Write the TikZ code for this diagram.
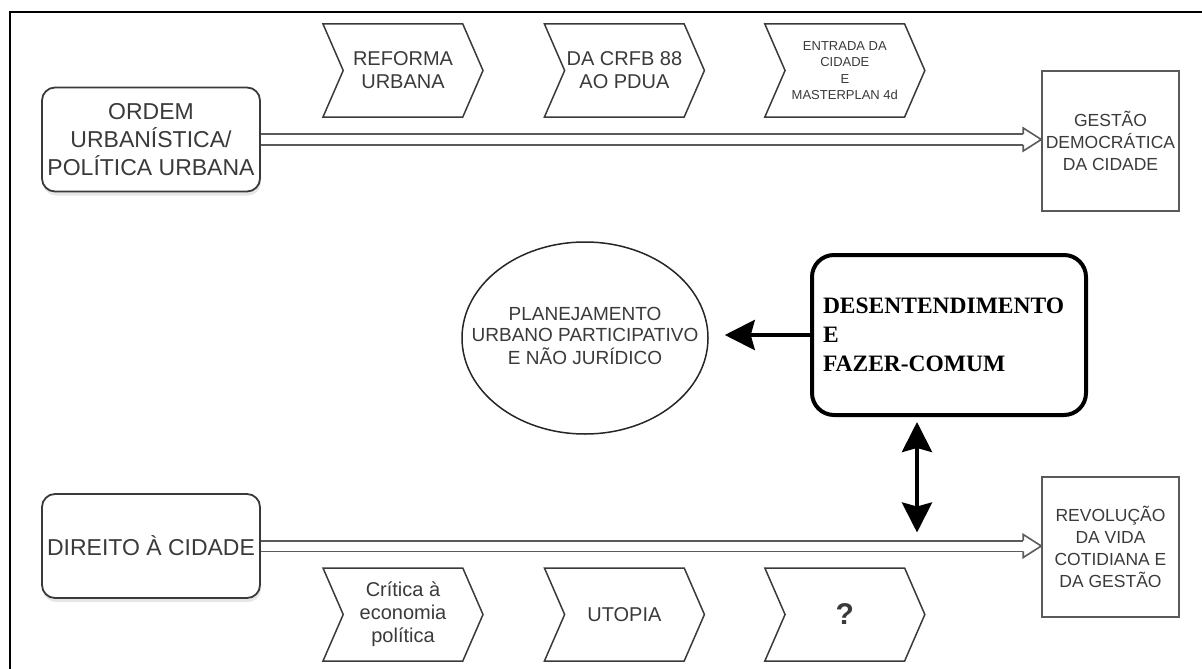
\documentclass[tikz,border=0pt]{standalone}
\usepackage{fontspec}
\setmainfont{Liberation Sans}
\newfontfamily\serifbold{Liberation Serif}
\usetikzlibrary{positioning}
\usetikzlibrary{shapes.geometric}
\usetikzlibrary{shapes.symbols}
\usetikzlibrary{arrows.meta}
\usetikzlibrary{shadows}
\definecolor{inkgray}{HTML}{3A3A3A}
\definecolor{linegray}{HTML}{5A5A5A}
\tikzset{
    % Heavy tips for the black links in the middle
    >={Stealth[length=30pt,width=30pt,inset=4pt]},
%
    % Rounded box at the start of each flow
    start box/.style={
        draw=inkgray, line width=1.8pt, rounded corners=13pt, align=center,
        minimum width=218pt, minimum height=104pt, inner sep=0pt,
        fill=white, text=inkgray, font=\fontsize{23}{28}\selectfont,
        drop shadow={opacity=.2, shadow xshift=1pt, shadow yshift=-4pt}},
%
    % Plain box at the end of each flow
    end box/.style={
        draw=linegray, line width=1.5pt, align=center,
        minimum width=137pt, minimum height=140pt, inner sep=0pt,
        text=inkgray, font=\fontsize{17.5}{22}\selectfont},
%
    % Chevron standing along a flow
    stage/.style={
        draw=inkgray, line width=1.5pt, signal, signal from=west,
        signal to=east, signal pointer angle=133, inner sep=0pt,
        minimum width=160pt, minimum height=93pt, align=center,
        text=inkgray, font=\fontsize{20}{23}\selectfont},
%
    % Hollow flow arrow: a double shaft and an open head
    flow/.style={
        draw=linegray, line width=1.6pt, double, double distance=9pt},
    flow head/.style={
        draw=linegray, line width=1.6pt, line join=miter},
%
    % Heavy black link
    link/.style={line width=4pt, draw=black}}

\begin{document}
\begin{tikzpicture}[x=1pt, y=-1pt]

\useasboundingbox (0,0) rectangle (1202,669);

% Outer frame, cut by the page on the right and at the bottom
\draw[line width=2pt] (10,690) -- (10,12) -- (1220,12);

% Top flow: from urban order to democratic management
\path
    node[start box] (ordem box) at (151,139.5)
        {ORDEM\\URBANÍSTICA/\\POLÍTICA URBANA}
    node[end box] (gestao box) at (1110.5,141)
        {GESTÃO\\DEMOCRÁTICA\\DA CIDADE};

\coordinate (gestao in) at (ordem box.east -| gestao box.west);
\draw[flow] (ordem box.east) -- ([xshift=-18pt]gestao in);
\draw[flow head] ([shift={(-18pt,5.3pt)}]gestao in) -- ++(0pt,6.2pt)
    -- (gestao in) -- ([shift={(-18pt,-11.5pt)}]gestao in) -- ++(0pt,6.2pt);

\path
    node[stage] (reforma stage) at (403,70.5) {REFORMA\\URBANA}
    node[stage, right=80pt of reforma stage] (crfb stage)
        {DA CRFB 88\\AO PDUA}
    node[stage, right=79pt of crfb stage,
        font=\fontsize{13}{16.5}\selectfont] (entrada stage)
        {ENTRADA DA\\CIDADE\\E\\MASTERPLAN 4d};

% Bottom flow: from the right to the city to the revolution of daily life
\path
    node[start box] (direito box) at (151,546) {DIREITO À CIDADE}
    node[end box] (revolucao box) at (1110.5,547)
        {REVOLUÇÃO\\DA VIDA\\COTIDIANA E\\DA GESTÃO};

\coordinate (revolucao in) at (direito box.east -| revolucao box.west);
\draw[flow] (direito box.east) -- ([xshift=-18pt]revolucao in);
\draw[flow head] ([shift={(-18pt,5.3pt)}]revolucao in) -- ++(0pt,6.2pt)
    -- (revolucao in) -- ([shift={(-18pt,-11.5pt)}]revolucao in)
    -- ++(0pt,6.2pt);

\path
    node[stage] (critica stage) at (403,614.5)
        {Crítica à\\economia\\política}
    node[stage, right=80pt of critica stage] (utopia stage) {UTOPIA}
    node[stage, right=79pt of utopia stage,
        font=\fontsize{30}{30}\selectfont\bfseries] (duvida stage) {?};

% Middle: disagreement and common making
\node[draw=black, line width=4pt, rounded corners=22pt,
    minimum width=274pt, minimum height=160pt, inner xsep=11pt,
    text width=252pt, align=left,
    font=\serifbold\bfseries\fontsize{23.5}{29}\selectfont]
    (desent box) at (949,335) {DESENTENDIMENTO\\E\\FAZER-COMUM};

% The text is boxed flat so that the ellipse keeps its own size
\node[draw=black!85, line width=1.5pt, ellipse, inner sep=0pt,
    minimum width=246pt, minimum height=192pt,
    text=inkgray, font=\fontsize{19}{21}\selectfont]
    (plan ellipse) at (585,338)
    {\makebox[0pt]{\begin{tabular}{@{}c@{}}
        PLANEJAMENTO\\URBANO PARTICIPATIVO\\E NÃO JURÍDICO
    \end{tabular}}};

\draw[link, ->, shorten >=16pt]
    (desent box.west) -- (desent box.west -| plan ellipse.east);

\coordinate (flow cross) at (917,546.5);
\draw[link, <->, shorten <=5pt, shorten >=14pt]
    (desent box.south -| flow cross) -- (flow cross);

\end{tikzpicture}
\end{document}
